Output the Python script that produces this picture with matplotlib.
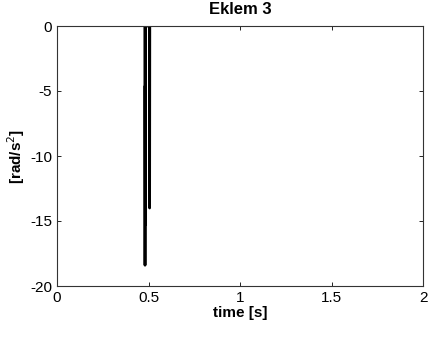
import matplotlib
matplotlib.use("Agg")
import matplotlib.pyplot as plt

# acceleration spike of joint 3 around t = 0.5 s (time in s, value in rad/s^2)
time_s = [0.480, 0.481, 0.482, 0.483, 0.484, 0.505, 0.506, 0.507]
accel = [0, -18.4, -4.6, -15.3, 0, 0, -14.0, 0]

x_ticks = [0, 0.5, 1, 1.5, 2]
x_labels = ["0", "0.5", "1", "1.5", "2"]
y_ticks = [0, -5, -10, -15, -20]
y_labels = ["0", "-5", "-10", "-15", "-20"]

plt.rcParams['font.family'] = ['Liberation Sans', 'DejaVu Sans']

fig = plt.figure(figsize=(4.3, 3.38), dpi=100)
ax = fig.add_axes([57 / 430, 1 - 286 / 338, 366 / 430, 260 / 338])
ax.plot(time_s, accel, color='black', linewidth=2.0)
ax.set_xlim(0, 2)
ax.set_ylim(-20, 0)
ax.set_xticks(x_ticks)
ax.set_xticklabels(x_labels)
ax.set_yticks(y_ticks)
ax.set_yticklabels(y_labels)
ax.tick_params(direction='in', top=True, right=True, labelsize=11, length=3, width=0.6)
for s in ax.spines.values():
    s.set_linewidth(0.8)
    s.set_color('#333333')
ax.set_title("Eklem 3", fontsize=12, fontweight='bold', pad=9)
ax.set_xlabel("time [s]", fontsize=11, fontweight='bold', labelpad=1)
ax.set_ylabel("[rad/s$^2$]", fontsize=11, fontweight='bold', labelpad=2)

fig.savefig("out.png", dpi=100)
